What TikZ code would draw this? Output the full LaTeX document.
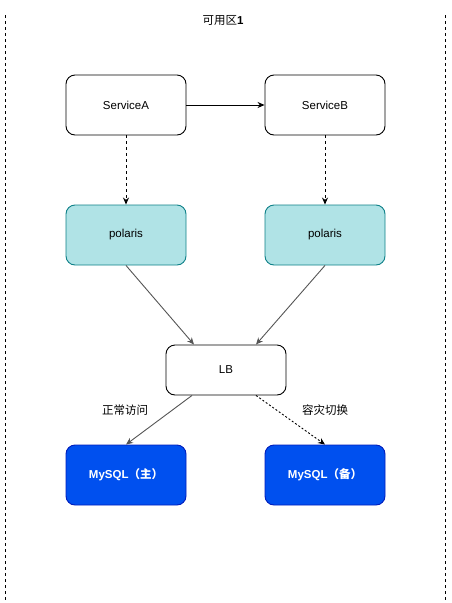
\documentclass[tikz,border=0pt]{standalone}
\usepackage{fontspec}
\setmainfont{Liberation Sans}
\newfontfamily\cjk{Noto Sans CJK SC}
\usetikzlibrary{arrows.meta, positioning}

\definecolor{polarisfill}{HTML}{B0E3E6}
\definecolor{polarisline}{HTML}{0E8088}
\definecolor{dbfill}{HTML}{0050EF}
\definecolor{dbline}{HTML}{001DBC}
\definecolor{linkgray}{HTML}{555555}

\tikzset{
    svcbox/.style={draw, line width=0.9pt, rounded corners=9pt, minimum width=120pt, minimum height=60pt, inner sep=0pt, font=\fontsize{11.5}{14}\selectfont},
    polarisbox/.style={svcbox, draw=polarisline, fill=polarisfill},
    dbbox/.style={svcbox, draw=dbline, fill=dbfill, text=white, font=\fontsize{11.5}{14}\selectfont\bfseries},
    link/.style={-{Stealth[length=7pt,width=6pt]}, line width=0.9pt},
    zoneline/.style={dashed, dash pattern=on 3pt off 3pt, line width=0.9pt}
}

\begin{document}
\begin{tikzpicture}[x=1pt, y=-1pt]

    \useasboundingbox (0,0) rectangle (452,603);

    % Zone borders and title
    \coordinate (zlt) at (5.5,15);
    \coordinate (zlb) at (5.5,600);
    \coordinate (zrt) at (445.5,15);
    \coordinate (zrb) at (445.5,600);
    \draw[zoneline] (zlt) -- (zlb);
    \draw[zoneline] (zrt) -- (zrb);
    \node[font=\fontsize{11.5}{14}\selectfont] (title) at (223,20) {{\cjk 可用区}\textbf{1}};

    % Services
    \node[svcbox] (svcA) at (126,105) {ServiceA};
    \node[svcbox] (svcB) at (325,105) {ServiceB};

    % Polaris
    \node[polarisbox] (polA) at (126,235) {polaris};
    \node[polarisbox] (polB) at (325,235) {polaris};

    % Load balancer
    \node[svcbox, minimum height=50pt] (lb) at (226,370) {LB};

    % Databases
    \node[dbbox] (dbMain) at (126,475) {MySQL{\cjk（主）}};
    \node[dbbox] (dbBak) at (325,475) {MySQL{\cjk（备）}};

    % Connectors
    \draw[link] (svcA) -- (svcB);
    \draw[link, dashed] (svcA) -- (polA);
    \draw[link, dashed] (svcB) -- (polB);
    \draw[link, draw=linkgray] (polA.south) -- ([xshift=-32pt]lb.north);
    \draw[link, draw=linkgray] (polB.south) -- ([xshift=30pt]lb.north);
    \draw[link, draw=linkgray] ([xshift=-34pt]lb.south) -- (dbMain.north);
    \draw[link, dashed, dash pattern=on 2pt off 2pt] ([xshift=30pt]lb.south) -- (dbBak.north);

    % Link labels
    \node[font=\fontsize{11.5}{14}\cjk] (lblMain) at (125,410) {正常访问};
    \node[font=\fontsize{11.5}{14}\cjk] (lblBak) at (325,410) {容灾切换};

\end{tikzpicture}
\end{document}
